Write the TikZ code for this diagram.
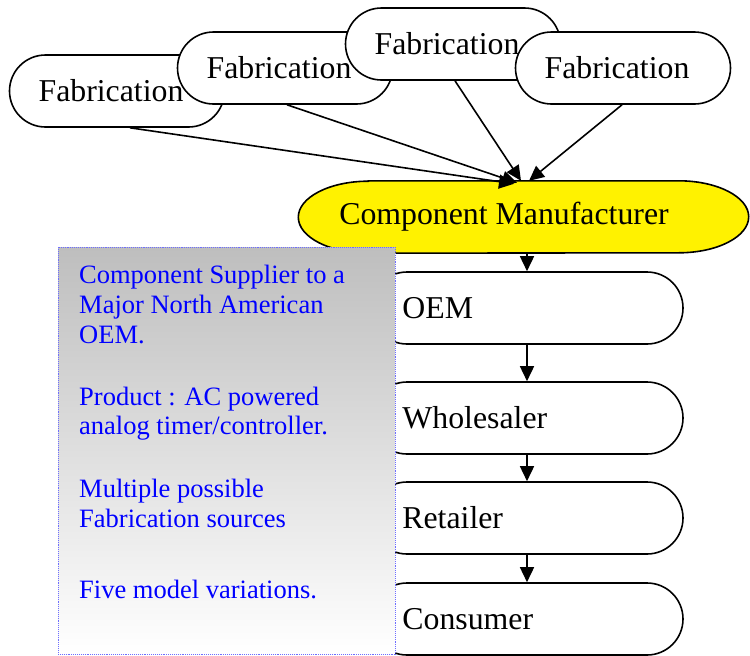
\documentclass[tikz,border=0pt]{standalone}
\usepackage{fontspec}
\setmainfont{Liberation Serif}
\usetikzlibrary{shapes.misc,arrows.meta,backgrounds}
\definecolor{noteblue}{RGB}{0,0,255}
\definecolor{boxedge}{RGB}{110,110,255}
\definecolor{boxtop}{RGB}{190,190,190}
\begin{document}
\begin{tikzpicture}[x=1pt,y=-1pt,
  bigfont/.style={font=\fontsize{31.8}{36}\selectfont},
  fab/.style={rounded rectangle, draw, line width=1.6pt, fill=white, minimum width=215pt, minimum height=72pt, inner sep=0pt, bigfont},
  chain/.style={rounded rectangle, draw, line width=1.6pt, fill=white, minimum width=312pt, minimum height=72pt, inner sep=0pt},
  chainlabel/.style={anchor=west, inner sep=0pt, xshift=32pt, bigfont},
  conn/.style={-{Triangle[length=15pt,width=14pt]}, line width=1.6pt},
  note/.style={anchor=base west, inner sep=0pt, text=noteblue, font=\fontsize{26.5}{30}\selectfont},
]
\useasboundingbox (0,0) rectangle (750,656);

% fabrication sources
\node[fab] (f1) at (117,91) {Fabrication\kern12pt};
\node[fab] (f2) at (285,68) {Fabrication\kern12pt};
\node[fab] (f3) at (453,44) {Fabrication\kern12pt};
\node[fab] (f4) at (623,68) {Fabrication\kern12pt};

% component manufacturer
\node[rectangle, minimum width=450pt, minimum height=72pt, inner sep=0pt, bigfont] (cm) at (523.5,217) {Component Manufacturer\kern39pt};
\begin{scope}[on background layer]
\draw[line width=1.6pt, fill=yellow]
  ([xshift=70pt]cm.north west) -- ([xshift=-70pt]cm.north east)
  arc[start angle=90, end angle=-90, x radius=70pt, y radius=36pt]
  -- ([xshift=70pt]cm.south west)
  arc[start angle=270, end angle=90, x radius=70pt, y radius=36pt] -- cycle;
\end{scope}

\draw[conn] ([xshift=13pt]f1.south) -- ([xshift=-9.5pt,yshift=-3pt]cm.north);
\draw[conn] ([xshift=2pt]f2.south) -- ([xshift=-6.5pt,yshift=-2pt]cm.north);
\draw[conn] ([xshift=2pt]f3.south) -- ([xshift=-2.5pt]cm.north);
\draw[conn] ([xshift=-1pt]f4.south) -- ([xshift=5.5pt]cm.north);

% chain
\node[chain, label={[name=oemt, chainlabel]west:OEM}] (oem) at (527,308) {};
\node[chain, label={[name=wht, chainlabel]west:Wholesaler}] (wh) at (527,418) {};
\node[chain, label={[name=ret, chainlabel]west:Retailer}] (re) at (527,518) {};
\node[chain, label={[name=cot, chainlabel]west:Consumer}] (co) at (527,619) {};

\draw[conn] (oem.north |- cm.south) -- (oem.north);
\draw[conn] (oem.south) -- (wh.north);
\draw[conn] (wh.south) -- (re.north);
\draw[conn] (re.south) -- (co.north);

% note box
\node[draw=boxedge, densely dotted, line width=0.9pt, top color=boxtop, bottom color=white, minimum width=337pt, minimum height=407pt, inner sep=0pt] (box) at (226.5,450.5) {};
\node[note] (n1) at (79,283) {Component Supplier to a};
\node[note] (n2) at (79,313) {Major North American};
\node[note] (n3) at (79,343) {OEM.};
\node[note] (n4) at (79,405) {Product : AC powered};
\node[note] (n5) at (79,434) {analog timer/controller.};
\node[note] (n6) at (79,497) {Multiple possible};
\node[note] (n7) at (79,527) {Fabrication sources};
\node[note] (n8) at (79,598) {Five model variations.};
\end{tikzpicture}
\end{document}
